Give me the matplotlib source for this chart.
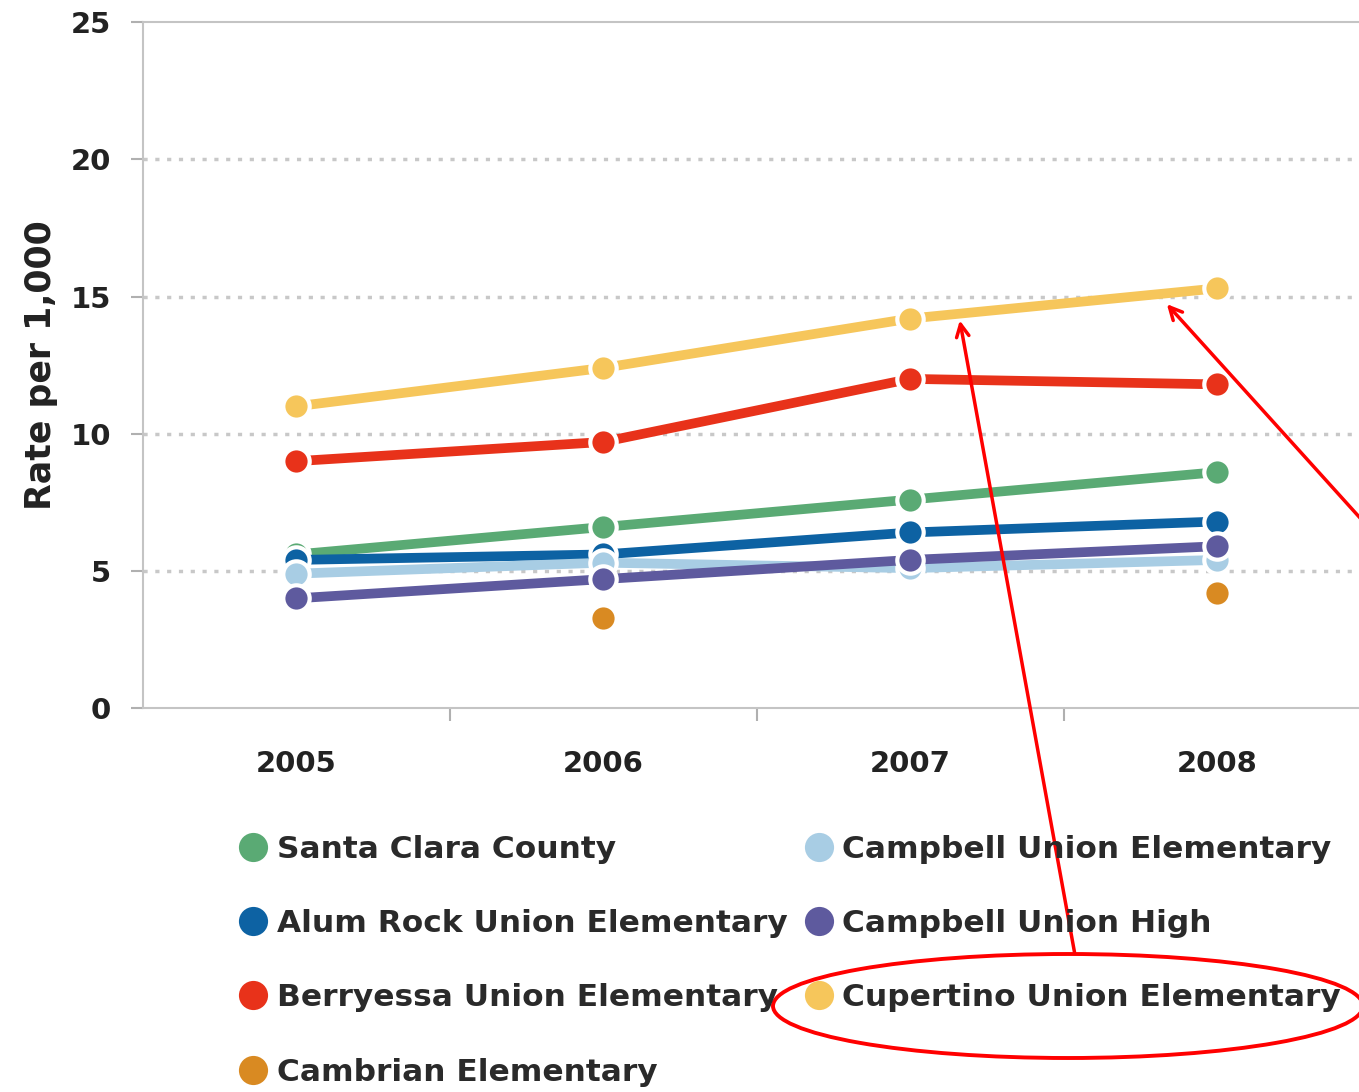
import numpy as np
import matplotlib.pyplot as plt
from matplotlib.patches import Ellipse

# ---------------------------------------------------------------------
years = ['2005', '2006', '2007', '2008']

santa_clara = [5.6, 6.6, 7.6, 8.6]
alum_rock = [5.4, 5.6, 6.4, 6.8]
berryessa = [9.0, 9.7, 12.0, 11.8]
cambrian = [np.nan, 3.3, np.nan, 4.2]
campbell_elem = [4.9, 5.3, 5.1, 5.4]
campbell_high = [4.0, 4.7, 5.4, 5.9]
cupertino = [11.0, 12.4, 14.2, 15.3]

series = [
    ('Santa Clara County', santa_clara, '#5aaa74'),
    ('Alum Rock Union Elementary', alum_rock, '#0d62a3'),
    ('Berryessa Union Elementary', berryessa, '#e8321a'),
    ('Cambrian Elementary', cambrian, '#d98a22'),
    ('Campbell Union Elementary', campbell_elem, '#a8cde4'),
    ('Campbell Union High', campbell_high, '#5e5a9e'),
    ('Cupertino Union Elementary', cupertino, '#f6c65b'),
]
# ---------------------------------------------------------------------

plt.rcParams['font.family'] = ['DejaVu Sans']
plt.rcParams['font.weight'] = 'bold'

fig = plt.figure(figsize=(13.59, 10.92), dpi=100)
ax = fig.add_axes([0.105, 0.3516, 0.9036, 0.628])

x = np.arange(len(years))
for name, vals, col in series:
    ax.plot(x, vals, '-o', color=col, lw=7, ms=19,
            markerfacecolor=col, markeredgecolor='white', mew=3,
            solid_capstyle='butt', label=name, clip_on=False)

ax.set_xlim(-0.5, 3.5)
ax.set_ylim(0, 25)
ax.set_yticks([0, 5, 10, 15, 20, 25])
ax.set_xticks(x)
ax.set_xticklabels(years)
ax.set_xticks([0.5, 1.5, 2.5], minor=True)

for s in ['left', 'bottom', 'top']:
    ax.spines[s].set_color('#c4c4c4')
    ax.spines[s].set_linewidth(1.5)
ax.spines['right'].set_visible(False)

# dotted grid lines only between the spines
for yv in [5, 10, 15, 20]:
    ax.axhline(yv, linestyle=(0, (1.2, 2.2)), color='#c8c8c8', lw=2.5, zorder=0)

ax.tick_params(axis='y', length=9, width=1.5, color='#b0b0b0', pad=14,
               labelsize=21, labelcolor='#222222')
ax.tick_params(axis='x', which='major', length=0, pad=30,
               labelsize=21, labelcolor='#222222')
ax.tick_params(axis='x', which='minor', length=9, width=1.5, color='#b0b0b0')

ax.set_ylabel('Rate per 1,000', fontsize=25, fontweight='bold',
              color='#222222', labelpad=9)

# legend: markers only
leg_handles = [plt.Line2D([], [], ls='none', marker='o', ms=21,
                          color=c, mec='none') for _, _, c in series]
leg = fig.legend(leg_handles, [s[0] for s in series], ncol=2,
                 loc='upper left', bbox_to_anchor=(0.168, 0.25),
                 frameon=False, fontsize=22.5, handlelength=0.6,
                 handletextpad=0.45, labelspacing=1.45, columnspacing=0.7,
                 borderpad=0)
for t in leg.get_texts():
    t.set_color('#2a2a2a')

# red annotations
arrow = dict(arrowstyle='->,head_length=0.9,head_width=0.45', color='red', lw=2.5)
ax.annotate('', xy=(2.16, 14.23), xytext=(1075, 1092 - 955),
            textcoords='figure pixels', arrowprops=arrow, annotation_clip=False)
ax.annotate('', xy=(2.83, 14.8), xytext=(1380, 1092 - 540),
            textcoords='figure pixels', arrowprops=arrow, annotation_clip=False)
fig.patches.append(Ellipse((1068 / 1359, 1 - 1006 / 1092), 590 / 1359, 104 / 1092,
                           transform=fig.transFigure, fill=False,
                           edgecolor='red', lw=2.8))

fig.savefig('out.png', dpi=100)
